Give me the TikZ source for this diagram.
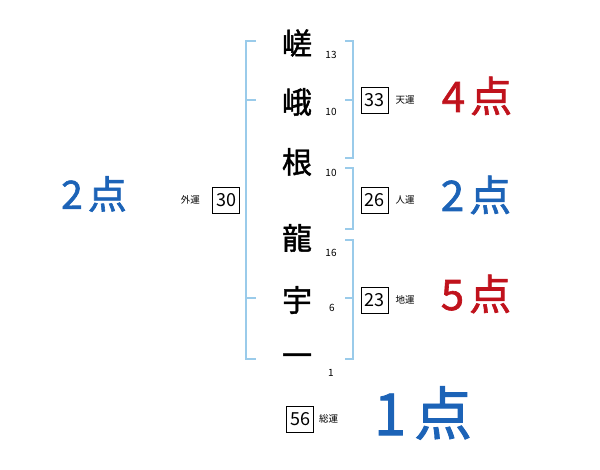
\documentclass[tikz,border=0pt]{standalone}
\usepackage{fontspec}
\newfontfamily\jp{Noto Sans CJK JP}
\newfontfamily\jpm[FakeBold=1.5]{Noto Sans CJK JP}
\usetikzlibrary{positioning}
\definecolor{bracketblue}{HTML}{9ACBEA}
\definecolor{scorered}{HTML}{C0121C}
\definecolor{scoreblue}{HTML}{1C63B7}

\begin{document}
\begin{tikzpicture}[
			x=1pt, y=-1pt,
			kanji/.style   = {font=\jpm\fontsize{30}{30}\selectfont, inner sep=0pt},
			strokes/.style = {font=\jp\fontsize{10}{10}\selectfont, inner sep=0pt},
			valbox/.style  = {draw, line width=0.7pt, font=\jp\fontsize{18}{18}\selectfont, minimum width=27pt, minimum height=26pt, inner sep=0pt},
			unkou/.style   = {font=\jp\fontsize{9.5}{9.5}\selectfont, inner sep=0pt},
			score/.style   = {font=\jpm\fontsize{42}{42}\selectfont, inner sep=0pt},
			brk/.style     = {draw=bracketblue, line width=1.6pt}
			]
			
			\useasboundingbox (0,0) rectangle (600,470);
			
			%% ── Name characters ───────────────────────────────────────────
			\node [kanji] (k1) at (297,43)  {嵯};
			\node [kanji] (k2) at (297,102) {峨};
			\node [kanji] (k3) at (297,162) {根};
			\node [kanji] (k4) at (297,238) {龍};
			\node [kanji] (k5) at (297,300) {宇};
			\node [kanji] (k6) at (297,360) {一};
			
			% stroke counts
			\node [strokes] (s1) at (331,55)  {13};
			\node [strokes] (s2) at (331,112) {10};
			\node [strokes] (s3) at (331,173) {10};
			\node [strokes] (s4) at (331,253) {16};
			\node [strokes] (s5) at (332,308) {6};
			\node [strokes] (s6) at (331,373) {1};
			
			%% ── Brackets ──────────────────────────────────────────────────
			\draw [brk] (256,41) -- (246,41) -- (246,359) -- (256,359);
			\draw [brk] (246,100) -- (256,100);
			\draw [brk] (246,298) -- (256,298);
			
			\draw [brk] (345,41) -- (353,41) -- (353,158) -- (345,158);
			\draw [brk] (345,100) -- (353,100);
			\draw [brk] (345,168) -- (353,168) -- (353,229) -- (345,229);
			\draw [brk] (345,240) -- (353,240) -- (353,359) -- (345,359);
			\draw [brk] (345,298) -- (353,298);
			
			%% ── Totals ────────────────────────────────────────────────────
			\node [valbox] (gai)  at (226,200)   {30};
			\node [unkou, left=12pt of gai]  (gailbl)  {外運};
			
			\node [valbox] (ten)  at (374.5,100) {33};
			\node [unkou, right=7pt of ten]  (tenlbl)  {天運};
			
			\node [valbox] (jin)  at (374.5,200) {26};
			\node [unkou, right=7pt of jin]  (jinlbl)  {人運};
			
			\node [valbox] (chi)  at (374.5,300) {23};
			\node [unkou, right=7pt of chi]  (chilbl)  {地運};
			
			\node [valbox] (sou)  at (300,419)   {56};
			\node [unkou, right=5pt of sou]  (soulbl)  {総運};
			
			%% ── Scores ────────────────────────────────────────────────────
			\node [score, text=scorered]  (tenpt) at (477,96)  {4\hspace{5pt}点};
			\node [score, text=scoreblue] (jinpt) at (476,195) {2\hspace{5pt}点};
			\node [score, text=scorered]  (chipt) at (476,294) {5\hspace{5pt}点};
			\node [score, text=scoreblue, font=\jpm\fontsize{39}{39}\selectfont] (gaipt) at (94,194) {2\hspace{5pt}点};
			\node [score, text=scoreblue, font=\jpm\fontsize{58}{58}\selectfont] (soupt) at (423,413) {1\hspace{8pt}点};
			
		\end{tikzpicture}
\end{document}
